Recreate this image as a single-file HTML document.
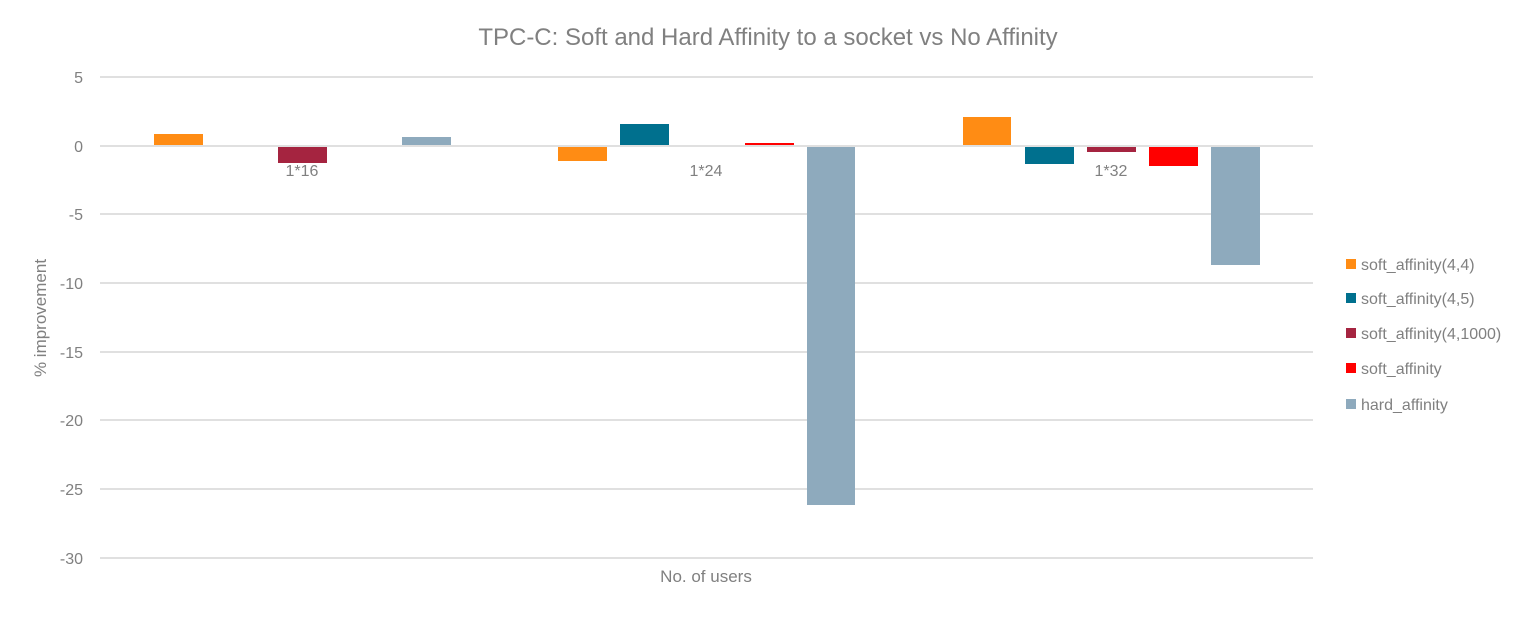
<!DOCTYPE html>
<html><head><meta charset="utf-8"><style>
html,body{margin:0;padding:0;background:#fff;}
svg text{font-family:"Liberation Sans",sans-serif;fill:#808080;}
</style></head><body>
<svg width="1537" height="613" xmlns="http://www.w3.org/2000/svg">
<text x="768" y="45" font-size="24" text-anchor="middle" fill="#7f7f7f">TPC-C: Soft and Hard Affinity to a socket vs No Affinity</text>
<g stroke="#e0e0e0" stroke-width="2">
<line x1="100" x2="1313" y1="77" y2="77"/>
<line x1="100" x2="1313" y1="146" y2="146"/>
<line x1="100" x2="1313" y1="214" y2="214"/>
<line x1="100" x2="1313" y1="283" y2="283"/>
<line x1="100" x2="1313" y1="352" y2="352"/>
<line x1="100" x2="1313" y1="420" y2="420"/>
<line x1="100" x2="1313" y1="489" y2="489"/>
<line x1="100" x2="1313" y1="558" y2="558"/>
</g>
<g font-size="16" text-anchor="end">
<text x="83" y="83">5</text>
<text x="83" y="152">0</text>
<text x="83" y="220">-5</text>
<text x="83" y="289">-10</text>
<text x="83" y="358">-15</text>
<text x="83" y="426">-20</text>
<text x="83" y="495">-25</text>
<text x="83" y="564">-30</text>
</g>
<text transform="translate(46,318) rotate(-90)" font-size="17" text-anchor="middle">% improvement</text>
<text x="706" y="582" font-size="17" text-anchor="middle">No. of users</text>
<!-- group 1 -->
<rect x="154" y="134" width="49" height="11" fill="#ff8c14"/>
<rect x="278" y="147" width="49" height="16" fill="#a52440"/>
<rect x="402" y="137" width="49" height="8" fill="#8eaabd"/>
<!-- group 2 -->
<rect x="558" y="147" width="49" height="14" fill="#ff8c14"/>
<rect x="620" y="124" width="49" height="21" fill="#00708e"/>
<rect x="745" y="143" width="49" height="2" fill="#ff0000"/>
<rect x="807" y="147" width="48" height="358" fill="#8eaabd"/>
<!-- group 3 -->
<rect x="963" y="117" width="48" height="28" fill="#ff8c14"/>
<rect x="1025" y="147" width="49" height="17" fill="#00708e"/>
<rect x="1087" y="147" width="49" height="5" fill="#a52440"/>
<rect x="1149" y="147" width="49" height="19" fill="#ff0000"/>
<rect x="1211" y="147" width="49" height="118" fill="#8eaabd"/>
<g font-size="16" text-anchor="middle">
<text x="302" y="176">1*16</text>
<text x="706" y="176">1*24</text>
<text x="1111" y="176">1*32</text>
</g>
<g font-size="16">
<rect x="1346" y="259" width="10" height="10" fill="#ff8c14"/><text x="1361" y="270">soft_affinity(4,4)</text>
<rect x="1346" y="293" width="10" height="10" fill="#00708e"/><text x="1361" y="304">soft_affinity(4,5)</text>
<rect x="1346" y="328" width="10" height="10" fill="#a52440"/><text x="1361" y="339">soft_affinity(4,1000)</text>
<rect x="1346" y="363" width="10" height="10" fill="#ff0000"/><text x="1361" y="374">soft_affinity</text>
<rect x="1346" y="399" width="10" height="10" fill="#8eaabd"/><text x="1361" y="410">hard_affinity</text>
</g>
</svg>
</body></html>
